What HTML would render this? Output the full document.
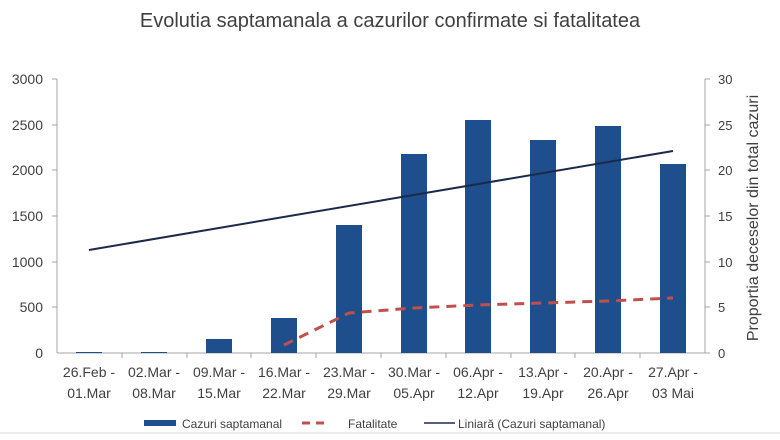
<!DOCTYPE html><html><head><style>body{margin:0;background:#fff}svg{display:block}text{font-family:"Liberation Sans",sans-serif;fill:#404040}</style></head><body>
<svg width="780" height="440" xmlns="http://www.w3.org/2000/svg">
<text x="390" y="27" font-size="20" text-anchor="middle">Evolutia saptamanala a cazurilor confirmate si fatalitatea</text>
<g stroke="#a6a6a6" stroke-width="1">
<line x1="57" y1="79" x2="57" y2="353"/><line x1="57" y1="353" x2="705" y2="353"/><line x1="705" y1="79" x2="705" y2="353"/>
<line x1="52" y1="79" x2="57" y2="79"/><line x1="52" y1="125" x2="57" y2="125"/><line x1="52" y1="170" x2="57" y2="170"/><line x1="52" y1="216" x2="57" y2="216"/><line x1="52" y1="262" x2="57" y2="262"/><line x1="52" y1="307" x2="57" y2="307"/>
<line x1="705" y1="79" x2="710" y2="79"/><line x1="705" y1="125" x2="710" y2="125"/><line x1="705" y1="170" x2="710" y2="170"/><line x1="705" y1="216" x2="710" y2="216"/><line x1="705" y1="262" x2="710" y2="262"/><line x1="705" y1="307" x2="710" y2="307"/><line x1="705" y1="353" x2="710" y2="353"/>
<line x1="122" y1="353" x2="122" y2="358"/><line x1="187" y1="353" x2="187" y2="358"/><line x1="251" y1="353" x2="251" y2="358"/><line x1="316" y1="353" x2="316" y2="358"/><line x1="381" y1="353" x2="381" y2="358"/><line x1="446" y1="353" x2="446" y2="358"/><line x1="511" y1="353" x2="511" y2="358"/><line x1="575" y1="353" x2="575" y2="358"/><line x1="640" y1="353" x2="640" y2="358"/>
<line x1="0" y1="433" x2="780" y2="433" stroke="#d9d9d9"/>
</g>
<g font-size="14" text-anchor="end">
<text x="43" y="84">3000</text><text x="43" y="130">2500</text><text x="43" y="175">2000</text><text x="43" y="221">1500</text><text x="43" y="267">1000</text><text x="43" y="312">500</text><text x="43" y="358">0</text>
</g>
<g font-size="13" text-anchor="start">
<text x="718" y="84">30</text><text x="718" y="130">25</text><text x="718" y="175">20</text><text x="718" y="221">15</text><text x="718" y="267">10</text><text x="718" y="312">5</text><text x="718" y="358">0</text>
</g>
<text transform="translate(758,218) rotate(-90)" font-size="16" text-anchor="middle">Proportia deceselor din total cazuri</text>
<g fill="#1f4e8c">
<rect x="76" y="352" width="26" height="1"/><rect x="141" y="352" width="26" height="1"/><rect x="206" y="339" width="26" height="14"/><rect x="271" y="318" width="26" height="35"/><rect x="336" y="225" width="26" height="128"/><rect x="401" y="154" width="26" height="199"/><rect x="465" y="120" width="26" height="233"/><rect x="530" y="140" width="26" height="213"/><rect x="595" y="126" width="26" height="227"/><rect x="660" y="164" width="26" height="189"/>
</g>
<line x1="89" y1="250" x2="673" y2="151" stroke="#1a2a4a" stroke-width="2"/>
<polyline points="284,345 349,313 414,308 478,305 543,303 608,301 673,298" fill="none" stroke="#c0504d" stroke-width="3" stroke-dasharray="10,7"/>
<g font-size="14" text-anchor="middle">
<text x="89" y="377">26.Feb -</text><text x="89" y="398">01.Mar</text>
<text x="154" y="377">02.Mar -</text><text x="154" y="398">08.Mar</text>
<text x="219" y="377">09.Mar -</text><text x="219" y="398">15.Mar</text>
<text x="284" y="377">16.Mar -</text><text x="284" y="398">22.Mar</text>
<text x="349" y="377">23.Mar -</text><text x="349" y="398">29.Mar</text>
<text x="414" y="377">30.Mar -</text><text x="414" y="398">05.Apr</text>
<text x="478" y="377">06.Apr -</text><text x="478" y="398">12.Apr</text>
<text x="543" y="377">13.Apr -</text><text x="543" y="398">19.Apr</text>
<text x="608" y="377">20.Apr -</text><text x="608" y="398">26.Apr</text>
<text x="673" y="377">27.Apr -</text><text x="673" y="398">03 Mai</text>
</g>
<rect x="144" y="420" width="32" height="6" fill="#1f4e8c"/>
<text x="182" y="428" font-size="12">Cazuri saptamanal</text>
<line x1="302" y1="423" x2="330" y2="423" stroke="#c0504d" stroke-width="3" stroke-dasharray="8,6"/>
<text x="348" y="428" font-size="12">Fatalitate</text>
<line x1="424" y1="423" x2="455" y2="423" stroke="#1a2a4a" stroke-width="1.5"/>
<text x="458" y="428" font-size="12">Liniară (Cazuri saptamanal)</text>
</svg></body></html>
